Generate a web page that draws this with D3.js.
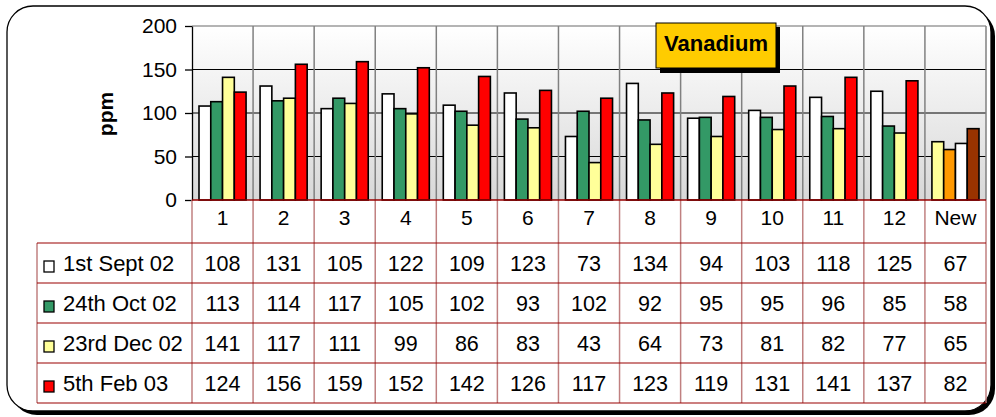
<!DOCTYPE html>
<html>
<head>
<meta charset="utf-8">
<script src="https://cdn.jsdelivr.net/npm/d3@7"></script>
<style>
  body { margin: 0; background: #fff; }
  svg { display: block; font-family: "Liberation Sans", Arial, sans-serif; }
</style>
</head>
<body>
<svg id="chart" width="996" height="417"></svg>
<script>
// chart data
const categories = ['1', '2', '3', '4', '5', '6', '7', '8', '9', '10', '11', '12', 'New'];
const seriesNames = ['1st Sept 02', '24th Oct 02', '23rd Dec 02', '5th Feb 03'];
const sept02 = [108, 131, 105, 122, 109, 123, 73, 134, 94, 103, 118, 125, 67];
const oct02 = [113, 114, 117, 105, 102, 93, 102, 92, 95, 95, 96, 85, 58];
const dec02 = [141, 117, 111, 99, 86, 83, 43, 64, 73, 81, 82, 77, 65];
const feb03 = [124, 156, 159, 152, 142, 126, 117, 123, 119, 131, 141, 137, 82];
const seriesColors = ['#ffffff', '#339966', '#ffff99', '#ff0000'];
// the "New" column is coloured differently in the original
const newColors = ['#ffff99', '#ff9900', '#ffffff', '#993300'];
const yTicks = [0, 50, 100, 150, 200];

const seriesValues = [sept02, oct02, dec02, feb03];

const svg = d3.select('#chart');

// rounded frame with shadow
svg.append('rect')
    .attr('x', 11).attr('y', 10).attr('width', 984).attr('height', 405)
    .attr('rx', 26).attr('fill', '#000');
svg.append('rect')
    .attr('x', 7).attr('y', 6).attr('width', 984).attr('height', 405)
    .attr('rx', 26).attr('fill', '#fff').attr('stroke', '#000').attr('stroke-width', 1.3);

const plot = { left: 192, right: 986, top: 26, bottom: 200 };

const x0 = d3.scaleBand().domain(categories).range([plot.left, plot.right]);
const x1 = d3.scaleBand().domain(d3.range(seriesNames.length))
    .range([7, x0.bandwidth() - 7]);
const y = d3.scaleLinear().domain([0, 200]).range([plot.bottom, plot.top]);

// plot background gradient
const grad = svg.append('defs').append('linearGradient')
    .attr('id', 'bg').attr('x1', 0).attr('y1', 0).attr('x2', 0).attr('y2', 1);
grad.append('stop').attr('offset', '0%').attr('stop-color', '#ffffff');
grad.append('stop').attr('offset', '100%').attr('stop-color', '#d8d8d8');

svg.append('rect')
    .attr('x', plot.left).attr('y', plot.top)
    .attr('width', plot.right - plot.left).attr('height', plot.bottom - plot.top)
    .attr('fill', 'url(#bg)');

// horizontal gridlines
svg.append('g')
    .selectAll('line')
    .data(yTicks.filter(d => d > 0))
    .join('line')
    .attr('x1', plot.left).attr('x2', plot.right)
    .attr('y1', d => y(d)).attr('y2', d => y(d))
    .attr('stroke', d => d === 200 ? '#b4b4b4' : '#000')
    .attr('stroke-width', d => d === 200 ? 2 : 1);

// vertical gridlines at category boundaries
svg.append('g')
    .selectAll('line')
    .data(categories.slice(1).concat(['end']))
    .join('line')
    .attr('x1', d => d === 'end' ? plot.right : x0(d))
    .attr('x2', d => d === 'end' ? plot.right : x0(d))
    .attr('y1', plot.top).attr('y2', plot.bottom)
    .attr('stroke', '#808080').attr('stroke-width', 1.5);

// bars
const groups = svg.append('g')
    .selectAll('g')
    .data(categories)
    .join('g')
    .attr('transform', d => `translate(${x0(d)},0)`);

groups.selectAll('rect')
    .data((c, ci) => seriesValues.map((vals, si) => ({ c, si, v: vals[ci] })))
    .join('rect')
    .attr('x', d => x1(d.si))
    .attr('width', x1.bandwidth())
    .attr('y', d => y(d.v))
    .attr('height', d => y(0) - y(d.v))
    .attr('fill', d => d.c === 'New' ? newColors[d.si] : seriesColors[d.si])
    .attr('stroke', '#000')
    .attr('stroke-width', 1.6);

// y axis
const yAxis = svg.append('g')
    .attr('transform', `translate(${plot.left},0)`)
    .call(d3.axisLeft(y).tickValues(yTicks).tickSize(7).tickSizeOuter(0).tickPadding(8));
yAxis.select('.domain').attr('stroke', '#000').attr('stroke-width', 1.3);
yAxis.selectAll('.tick line').attr('stroke', '#000').attr('stroke-width', 1.3);
yAxis.selectAll('.tick text')
    .attr('fill', '#000')
    .style('font-size', '21px')
    .style('font-family', '"Liberation Sans", Arial, sans-serif');

svg.append('text')
    .attr('transform', 'translate(113,114) rotate(-90)')
    .attr('text-anchor', 'middle')
    .style('font-size', '21px')
    .style('font-weight', 'bold')
    .text('ppm');

// data table
const rowY = d3.scaleBand().domain(d3.range(seriesNames.length)).range([243, 403]);
const tableLeft = 37;
const table = svg.append('g');

// category label row
table.selectAll('.cat')
    .data(categories)
    .join('text')
    .attr('class', 'cat')
    .attr('x', d => x0(d) + x0.bandwidth() / 2)
    .attr('y', 225)
    .attr('text-anchor', 'middle')
    .style('font-size', '21px')
    .text(d => d);

// values
seriesNames.forEach((name, si) => {
    const top = rowY(si);
    table.append('rect')
        .attr('x', 44).attr('y', top + 18)
        .attr('width', 10).attr('height', 11)
        .attr('fill', seriesColors[si])
        .attr('stroke', '#000').attr('stroke-width', 1.3);
    table.append('text')
        .attr('x', 63).attr('y', top + 28)
        .style('font-size', '22px')
        .text(name);
    table.selectAll(null)
        .data(categories)
        .join('text')
        .attr('x', d => x0(d) + x0.bandwidth() / 2)
        .attr('y', top + 28)
        .attr('text-anchor', 'middle')
        .style('font-size', '21.5px')
        .text((d, ci) => seriesValues[si][ci]);
});

// table vertical lines
const vLines = [plot.left].concat(categories.slice(1).map(c => x0(c)), [plot.right]);
table.selectAll('.vline')
    .data(vLines)
    .join('line')
    .attr('class', 'vline')
    .attr('x1', d => d).attr('x2', d => d)
    .attr('y1', plot.bottom).attr('y2', 403)
    .attr('stroke', '#c08080').attr('stroke-width', 1.5);
table.append('line')
    .attr('x1', tableLeft).attr('x2', tableLeft)
    .attr('y1', 243).attr('y2', 403)
    .attr('stroke', '#c08080').attr('stroke-width', 1.5);

// table horizontal lines
table.selectAll('.hline')
    .data(d3.range(seriesNames.length + 1))
    .join('line')
    .attr('class', 'hline')
    .attr('x1', tableLeft).attr('x2', plot.right)
    .attr('y1', d => d < seriesNames.length ? rowY(d) : 403)
    .attr('y2', d => d < seriesNames.length ? rowY(d) : 403)
    .attr('stroke', '#990000').attr('stroke-width', 1.2);

// zero line
svg.append('line')
    .attr('x1', plot.left).attr('x2', plot.right)
    .attr('y1', y(0)).attr('y2', y(0))
    .attr('stroke', '#990000').attr('stroke-width', 1.3);

// title box
svg.append('rect')
    .attr('x', 660).attr('y', 27).attr('width', 120).attr('height', 46)
    .attr('fill', '#000');
svg.append('rect')
    .attr('x', 656).attr('y', 23).attr('width', 120).attr('height', 45)
    .attr('fill', '#ffcc00').attr('stroke', '#000').attr('stroke-width', 1);
svg.append('text')
    .attr('x', 716).attr('y', 51)
    .attr('text-anchor', 'middle')
    .style('font-size', '22px')
    .style('font-weight', 'bold')
    .text('Vanadium');
</script>
</body>
</html>
